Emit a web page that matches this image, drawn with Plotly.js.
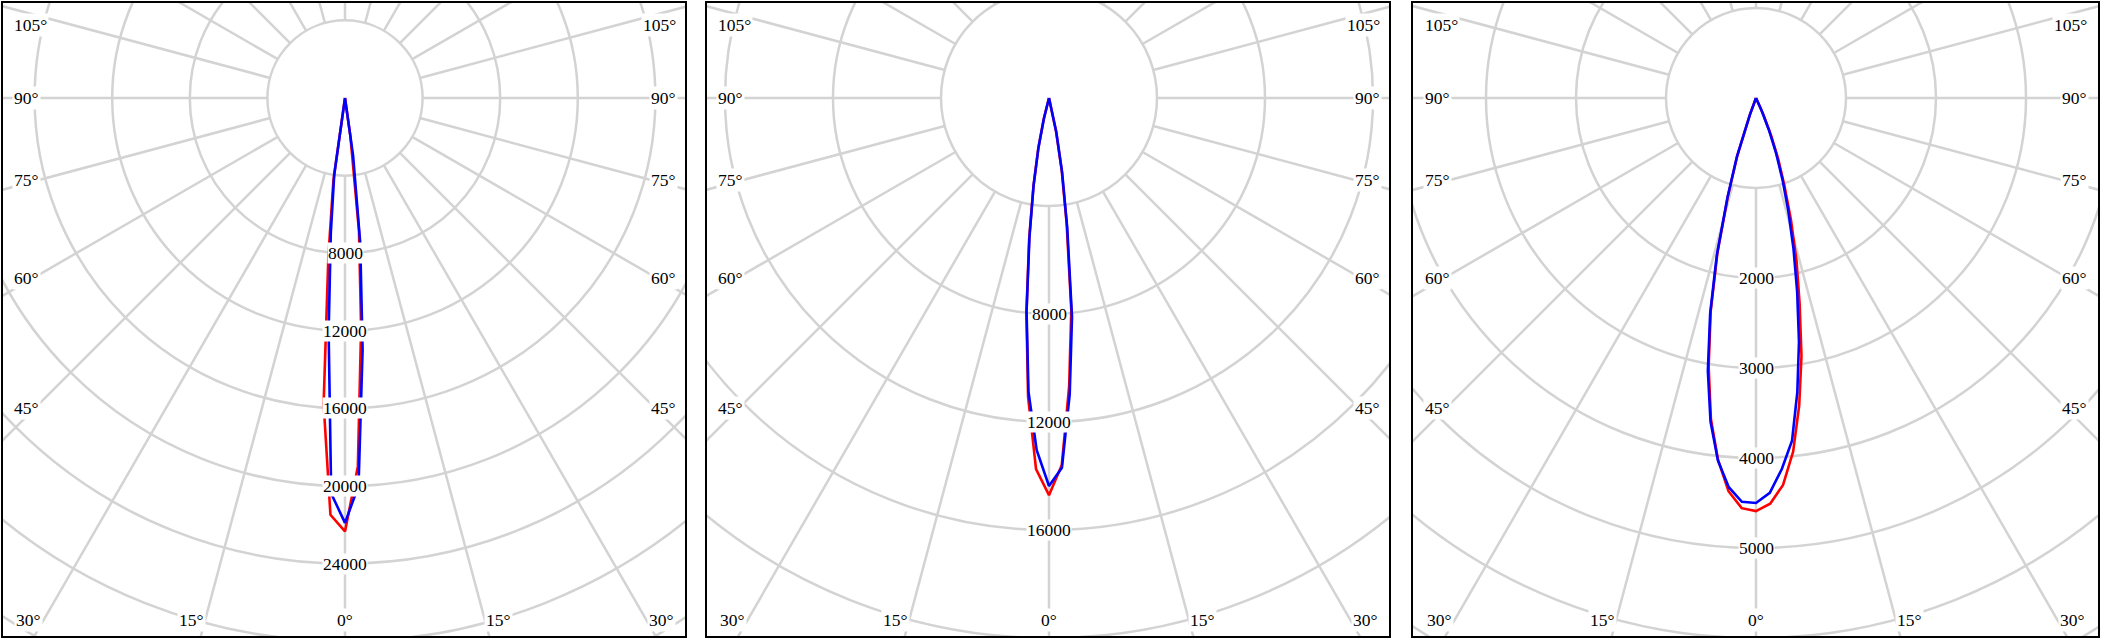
<!DOCTYPE html>
<html><head><meta charset="utf-8">
<script src="https://cdn.plot.ly/plotly-3.0.1.min.js"></script>
<style>
html,body{margin:0;padding:0;background:#fff;width:2102px;height:642px;overflow:hidden;}
.panel{position:absolute;top:1px;height:637px;border:2px solid #000;box-sizing:border-box;overflow:hidden;background:#fff;}
.plot{position:absolute;}
</style></head><body>
<div id="p1" class="panel" style="left:1px;width:686px;"><div id="g1" class="plot"></div></div>
<div id="p2" class="panel" style="left:705px;width:686px;"><div id="g2" class="plot"></div></div>
<div id="p3" class="panel" style="left:1411px;width:689px;"><div id="g3" class="plot"></div></div>
<script>
// ---------- data (gamma angle in degrees, intensity values) ----------
const gammaP1 = [0, 2, 4, 6, 8, 10, 90];
const p1RedLeft   = [22340, 21500, 15800, 8200, 4300, 0, 0];
const p1RedRight  = [22340, 19000, 11900, 6900, 2000, 0, 0];
const p1BlueLeft  = [21900, 20400, 12100, 7000, 4000, 0, 0];
const p1BlueRight = [21900, 20000, 13000, 7500, 3000, 0, 0];

const gammaP2 = [0, 2, 4, 6, 8, 10, 12, 14, 16, 90];
const p2RedLeft   = [14710, 13750, 11100, 8000, 5280, 3320, 1900, 800, 0, 0];
const p2RedRight  = [14710, 13600, 10700, 7900, 4700, 2700, 1250, 0, 0, 0];
const p2BlueLeft  = [14370, 13050, 10900, 7950, 5200, 3280, 1880, 780, 0, 0];
const p2BlueRight = [14370, 13700, 11000, 8150, 4850, 2800, 1300, 0, 0, 0];

const gammaP3 = [0, 2, 4, 6, 8, 10, 12, 14, 16, 18, 20, 22, 24, 26, 90];
const p3RedLeft   = [4590, 4560, 4380, 4040, 3600, 3030, 2420, 1770, 1130, 670, 200, 0, 0, 0, 0];
const p3RedRight  = [4590, 4510, 4310, 3950, 3450, 2910, 2330, 1860, 1410, 1020, 720, 450, 200, 0, 0];
const p3BlueLeft  = [4500, 4490, 4335, 4050, 3630, 3080, 2450, 1800, 1150, 690, 200, 0, 0, 0, 0];
const p3BlueRight = [4500, 4390, 4130, 3830, 3300, 2750, 2200, 1720, 1300, 950, 650, 380, 150, 0, 0];

const ticksP1 = [8000, 12000, 16000, 20000, 24000];
const ticksP2 = [8000, 12000, 16000];
const ticksP3 = [2000, 3000, 4000, 5000];

const sideLabels = ['105°', '90°', '75°', '60°', '45°'];
const bottomLabels = ['30°', '15°', '0°', '15°', '30°'];

// ---------- layout constants ----------
const CY = 98.4;           // polar centre (page y)
const S = 1600;            // plot size (clipped by the panel)
const FONT = {family: 'Liberation Serif, Times New Roman, serif', size: 17.5, color: '#000'};
const GRID = '#d3d3d3';
const sideDy = [-73, 0, 82, 179.6, 309.6];
const sideDx = 332;
const bottomDx = [-316.5, -153.7, 0, 153.7, 316.5];
const bottomDy = 521.6;

const panels = [
  {div: 'g1', left: 1,    cx: 344.5,  ppu: 0.0194, dtick: 4000, ticks: ticksP1, gamma: gammaP1,
   red: [p1RedLeft, p1RedRight], blue: [p1BlueLeft, p1BlueRight]},
  {div: 'g2', left: 705,  cx: 1048.5, ppu: 0.0270, dtick: 4000, ticks: ticksP2, gamma: gammaP2,
   red: [p2RedLeft, p2RedRight], blue: [p2BlueLeft, p2BlueRight]},
  {div: 'g3', left: 1411, cx: 1755.5, ppu: 0.0900, dtick: 1000, ticks: ticksP3, gamma: gammaP3,
   red: [p3RedLeft, p3RedRight], blue: [p3BlueLeft, p3BlueRight]}
];

function curve(gamma, left, right) {
  const r = [], t = [];
  for (let i = gamma.length - 1; i >= 0; i--) { r.push(left[i]); t.push(-gamma[i]); }
  for (let i = 1; i < gamma.length; i++) { r.push(right[i]); t.push(gamma[i]); }
  return {r, t};
}

panels.forEach(p => {
  const rmax = (S / 2) / p.ppu;
  const sr = [], st = [];
  for (let a = 0; a < 360; a += 15) { sr.push(p.dtick, rmax * 1.2, null); st.push(a, a, null); }
  const red = curve(p.gamma, p.red[0], p.red[1]);
  const blue = curve(p.gamma, p.blue[0], p.blue[1]);
  const traces = [
    {type: 'scatterpolar', mode: 'lines', r: sr, theta: st, line: {color: GRID, width: 2.5},
     hoverinfo: 'skip', connectgaps: false, cliponaxis: true},
    {type: 'scatterpolar', mode: 'lines', r: red.r, theta: red.t, line: {color: '#ff0000', width: 2.6}, hoverinfo: 'skip'},
    {type: 'scatterpolar', mode: 'lines', r: blue.r, theta: blue.t, line: {color: '#0000ff', width: 2.6}, hoverinfo: 'skip'}
  ];
  const ann = [];
  const px = dx => 0.5 + dx / S;
  const py = dy => 0.5 - dy / S;
  p.ticks.forEach(v => ann.push({text: String(v), x: 0.5, y: py(v * p.ppu), xref: 'paper', yref: 'paper',
    xanchor: 'center', yanchor: 'middle', showarrow: false, font: FONT, bgcolor: '#fff', borderpad: 0}));
  sideLabels.forEach((s, i) => {
    ann.push({text: s, x: px(-sideDx - 1), y: py(sideDy[i]), xref: 'paper', yref: 'paper', xanchor: 'left',
      yanchor: 'middle', showarrow: false, font: FONT, bgcolor: '#fff', borderpad: 1});
    ann.push({text: s, x: px(sideDx + 1), y: py(sideDy[i]), xref: 'paper', yref: 'paper', xanchor: 'right',
      yanchor: 'middle', showarrow: false, font: FONT, bgcolor: '#fff', borderpad: 1});
  });
  bottomLabels.forEach((s, i) => ann.push({text: s, x: px(bottomDx[i]), y: py(bottomDy), xref: 'paper', yref: 'paper',
    xanchor: 'center', yanchor: 'middle', showarrow: false, font: FONT, bgcolor: '#fff', borderpad: 1}));

  const layout = {
    width: S, height: S, margin: {l: 0, r: 0, t: 0, b: 0, pad: 0},
    paper_bgcolor: '#fff', plot_bgcolor: '#fff', showlegend: false,
    polar: {
      domain: {x: [0, 1], y: [0, 1]}, bgcolor: 'rgba(0,0,0,0)', hole: 0,
      radialaxis: {range: [0, rmax], tick0: 0, dtick: p.dtick, showticklabels: false, ticks: '',
        showline: false, showgrid: true, gridcolor: GRID, gridwidth: 2.5, angle: 270},
      angularaxis: {rotation: 270, direction: 'counterclockwise', showgrid: false, showticklabels: false,
        ticks: '', showline: false}
    },
    annotations: ann
  };
  const el = document.getElementById(p.div);
  el.style.width = S + 'px';
  el.style.height = S + 'px';
  el.style.left = (p.cx - (p.left + 2) - S / 2) + 'px';
  el.style.top = (CY - 3 - S / 2) + 'px';
  Plotly.newPlot(el, traces, layout, {staticPlot: true, displayModeBar: false});
});
</script>
</body></html>
